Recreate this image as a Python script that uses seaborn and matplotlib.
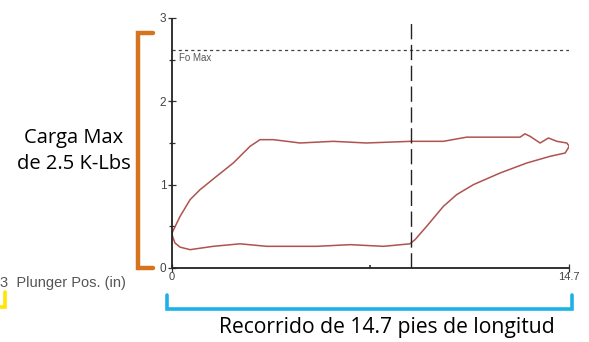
import numpy as np
import pandas as pd
import matplotlib
matplotlib.use('Agg')
import matplotlib.pyplot as plt
from matplotlib.lines import Line2D
import seaborn as sns

# Dynamometer card loop (plunger position in, load K-Lbs)
pos = [0.0, 0.3, 0.67, 1.04, 1.65, 2.27, 2.89, 3.26, 3.75, 4.25, 4.74,
       5.97, 7.2, 8.85, 10.05, 10.91, 12.15, 12.89, 13.07, 13.26, 13.63,
       13.94, 14.25, 14.62, 14.71, 14.56, 14.0, 13.14, 12.15, 11.16, 10.54,
       10.05, 9.43, 9.0, 8.81, 7.83, 6.6, 5.36, 4.74, 3.51, 2.52, 1.53,
       0.67, 0.30, 0.11, 0.02, 0.0]
load = [0.42, 0.62, 0.82, 0.94, 1.10, 1.26, 1.46, 1.54, 1.54, 1.52, 1.50,
        1.52, 1.50, 1.52, 1.52, 1.57, 1.57, 1.57, 1.61, 1.58, 1.50,
        1.56, 1.52, 1.50, 1.46, 1.38, 1.34, 1.26, 1.14, 1.00, 0.88,
        0.74, 0.50, 0.34, 0.29, 0.26, 0.28, 0.26, 0.26, 0.26, 0.29, 0.26,
        0.22, 0.25, 0.30, 0.38, 0.42]

stroke_len = 14.7
max_load = 3
fo_max = 2.62
marker_pos = 8.85
y_ticks = [0, 1, 2, 3]
x_ticks = [0, 14.7]
x_tick_labels = ['0', '14.7']

df = pd.DataFrame({'pos': pos, 'load': load})

sns.set_style('ticks')
plt.rcParams['font.family'] = ['Liberation Sans', 'DejaVu Sans']

fig = plt.figure(figsize=(5.89, 3.42), dpi=100)
ax = fig.add_axes([0.292, 0.2164, 0.674, 0.731])

sns.lineplot(data=df, x='pos', y='load', sort=False, estimator=None,
             color='#b0524e', linewidth=1.1, ax=ax)

ax.hlines(fo_max, 0, stroke_len, colors='#444444', linestyles=(0, (2.5, 2.5)),
          linewidth=0.9)
ax.vlines(marker_pos, 0, 2.94, colors='#222222', linestyles=(0, (11, 4)),
          linewidth=1.0)
# axis lines, drawn the same way as the dashed marker line
ax.vlines(0, 0, max_load, colors='#222222', linewidth=1.3, clip_on=False)
ax.hlines(0, 0, stroke_len, colors='#222222', linewidth=1.3, clip_on=False)
ax.text(0.25, fo_max - 0.04, 'Fo Max', fontsize=7, color='#555555',
        va='top', ha='left')

ax.set_xlim(0, stroke_len)
ax.set_ylim(0, max_load)
ax.set_xticks(x_ticks)
ax.set_xticklabels(x_tick_labels)
ax.set_xticks([stroke_len / 2], minor=True)
ax.set_yticks(y_ticks)
ax.set_yticks([0.5, 1.5, 2.5], minor=True)
ax.set_xlabel('')
ax.set_ylabel('')
for s in ax.spines.values():
    s.set_visible(False)
ax.tick_params(axis='y', which='major', direction='inout', length=6, width=0.9,
               left=True, colors='#333333', labelcolor='#444444', labelsize=8.5,
               pad=1)
ax.tick_params(axis='y', which='minor', direction='inout', length=4, width=0.9,
               colors='#333333', left=True)
ax.tick_params(axis='x', which='major', direction='inout', length=6, width=0.9,
               bottom=True, colors='#333333', labelcolor='#444444',
               labelsize=8, pad=0)
ax.tick_params(axis='x', which='minor', direction='in', length=2, width=1.2,
               colors='#333333', bottom=True)

# annotation brackets and labels
orange = '#d6731f'
blue = '#1eb1e8'
fig.add_artist(Line2D([153 / 589, 138 / 589, 138 / 589, 153 / 589],
                      [1 - 33 / 342, 1 - 33 / 342, 1 - 268 / 342, 1 - 268 / 342],
                      color=orange, linewidth=3.2, solid_joinstyle='miter'))
fig.add_artist(Line2D([167 / 589, 167 / 589, 572 / 589, 572 / 589],
                      [1 - 295 / 342, 1 - 309 / 342, 1 - 309 / 342, 1 - 295 / 342],
                      color=blue, linewidth=2.6, solid_joinstyle='miter'))
fig.add_artist(Line2D([0 / 589, 5 / 589, 5 / 589],
                      [1 - 307 / 342, 1 - 307 / 342, 1 - 292 / 342],
                      color='#ffe600', linewidth=2.6, solid_joinstyle='miter'))

fig.text(74 / 589, 1 - 151 / 342, 'Carga Max\nde 2.5 K-Lbs', ha='center',
         va='center', fontsize=14.5, family='Open Sans', color='black',
         linespacing=1.45)
fig.text(387 / 589, 1 - 327 / 342, 'Recorrido de 14.7 pies de longitud',
         ha='center', va='center', fontsize=15.2, family='Open Sans',
         color='black')
fig.text(0 / 589, 1 - 283 / 342, '3  Plunger Pos. (in)', ha='left',
         va='center', fontsize=10.5, color='#555555')

fig.savefig('out.png', dpi=100)
